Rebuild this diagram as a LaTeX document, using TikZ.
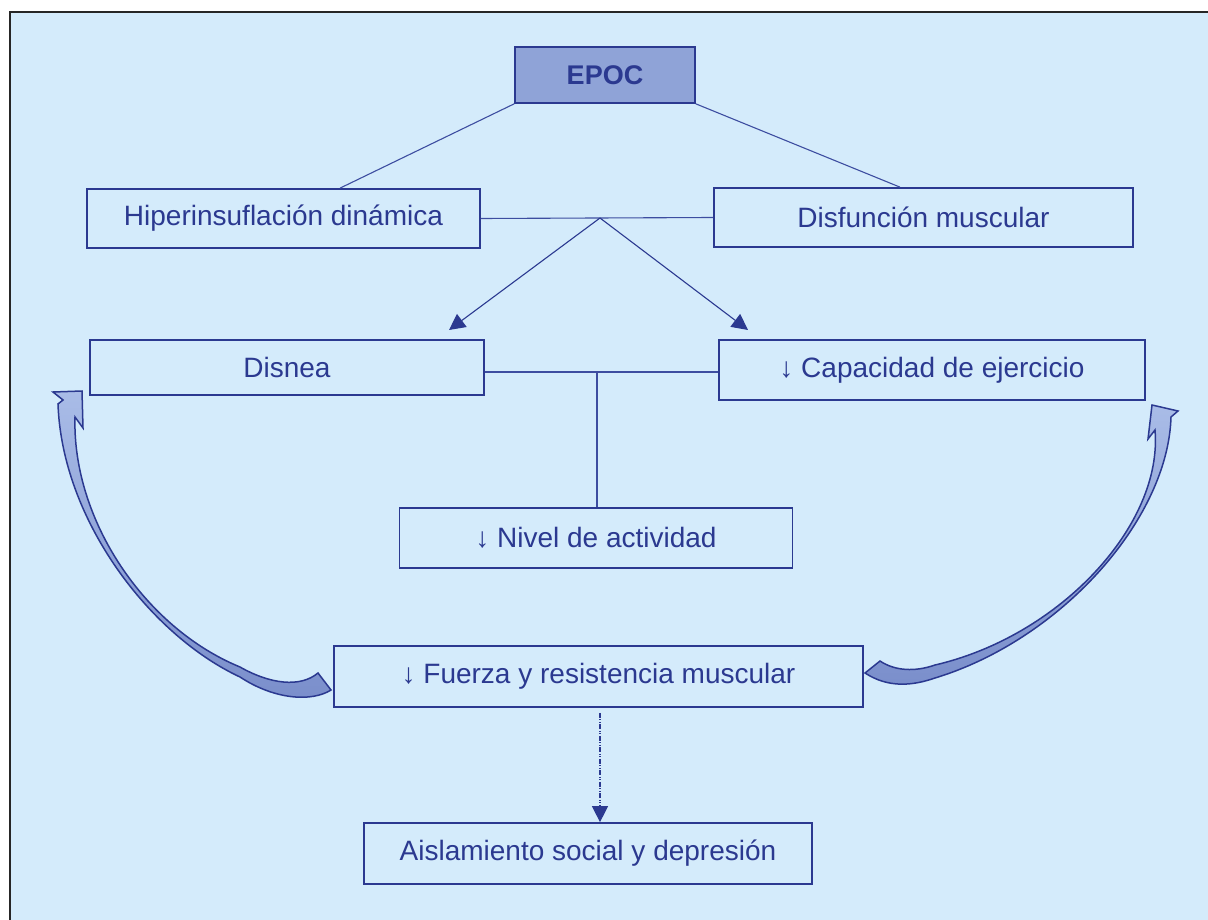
\documentclass[tikz,border=0pt]{standalone}
\usepackage{fontspec}
\setmainfont{Liberation Sans}
\usetikzlibrary{arrows.meta,calc}
\definecolor{bgblue}{HTML}{D4EBFB}
\definecolor{navy}{HTML}{2B3990}
\definecolor{linkblue}{HTML}{3D4DA0}
\definecolor{epocfill}{HTML}{8FA3D7}
\definecolor{bandlight}{HTML}{A9BCE7}
\definecolor{banddark}{HTML}{7A8ECB}
\begin{document}
\begin{tikzpicture}[x=1pt,y=-1pt,
  box/.style={draw=navy, line width=1.7pt, text=navy, inner sep=0pt,
    font=\fontsize{28}{32}\selectfont},
  link/.style={draw=linkblue, line width=1.1pt},
  tip/.style={-{Triangle[length=16pt,width=16pt]}, navy},
  dots/.style={draw=linkblue, line width=1.1pt,
    dash pattern=on 5pt off 1.5pt on 1pt off 1.5pt on 1pt off 1.5pt},
  band/.style={draw=navy, line width=1.5pt, top color=bandlight,
    bottom color=banddark, line join=miter}]
\useasboundingbox (0,0) rectangle (1208,920);
% panel
\fill[white] (0,0) rectangle (1208,920);
\fill[bgblue] (10,12) rectangle (1208,920);
\draw[black!85, line width=1.6pt] (10,920) -- (10,12) -- (1208,12);

% boxes
\node[box, fill=epocfill, minimum width=180pt, minimum height=56pt,
  font=\bfseries\fontsize{27}{32}\selectfont] (epoc) at (605,75) {EPOC};
\node[box, minimum width=393pt, minimum height=59pt] (hiper) at (283.5,218.5) {Hiperinsuflación dinámica};
\node[box, minimum width=419pt, minimum height=59pt] (disf) at (923.5,217.5) {Disfunción muscular};
\node[box, minimum width=394pt, minimum height=55pt] (disnea) at (287,367.5) {Disnea};
\node[box, minimum width=426pt, minimum height=60pt] (capac) at (932,370) {↓ Capacidad de ejercicio};
\node[box, minimum width=393pt, minimum height=60pt] (nivel) at (596,538) {↓ Nivel de actividad};
\node[box, minimum width=529pt, minimum height=61pt] (fuerza) at (598.5,676.5) {↓ Fuerza y resistencia muscular};
\node[box, minimum width=448pt, minimum height=61pt] (aisl) at (588,853.5) {Aislamiento social y depresión};

% junctions and arrow ends
\coordinate (j1) at (600,218);
\coordinate (ta) at (449,330);
\coordinate (tb) at (748,330);
\coordinate (j2) at (597,372);

% connectors
\draw[link] (epoc.south west) -- ([xshift=56.5pt]hiper.north);
\draw[link] (epoc.south east) -- ([xshift=-23.5pt]disf.north);
\draw[link] (hiper.east) -- (disf.west);
\draw[link, tip] (j1) -- (ta);
\draw[link, tip] (j1) -- (tb);
\draw[link] (disnea.east |- j2) -- (capac.west |- j2);
\draw[link] (j2) -- (j2 |- nivel.north);
\draw[dots, tip] ([xshift=1.5pt,yshift=-5pt]fuerza.south) -- ([xshift=1.5pt]fuerza.south |- aisl.north);

% curved block arrows (twisted ribbons, narrow in the middle)
\path[band] (53,392) -- (82,391) -- (83,428) -- (75,417)
  .. controls (72,520) and (145,628) .. (240,667)
  .. controls (270,684) and (300,688) .. (318,673)
  -- (331,690)
  .. controls (312,702) and (275,700) .. (240,677)
  .. controls (150,635) and (62,520) .. (58,404)
  -- (63,400) -- cycle;
\path[band] (1152,405) -- (1178,411) -- (1171,417)
  .. controls (1168,520) and (1060,640) .. (935,678)
  .. controls (912,686) and (888,688) .. (865,673)
  -- (880,661)
  .. controls (895,671) and (915,672) .. (935,665)
  .. controls (1060,636) and (1163,525) .. (1155,430)
  -- (1148,439) -- cycle;
\end{tikzpicture}
\end{document}
